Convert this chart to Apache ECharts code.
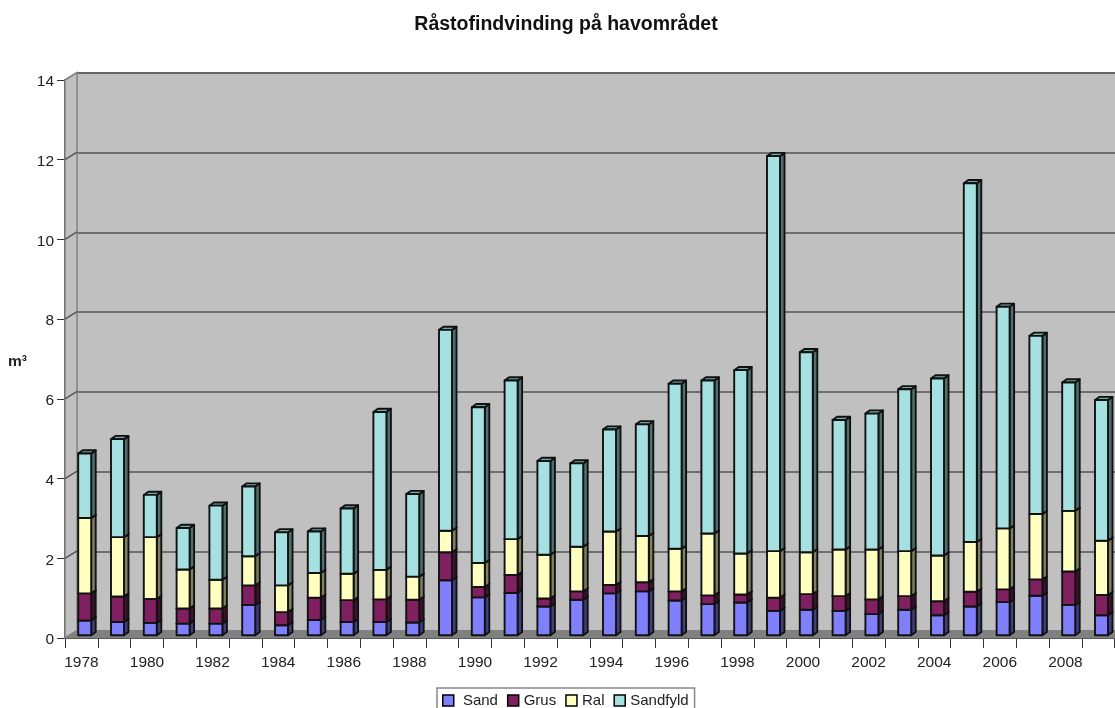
<!DOCTYPE html>
<html>
<head>
<meta charset="utf-8">
<title>Råstofindvinding på havområdet</title>
<script src="https://cdn.jsdelivr.net/npm/echarts@6/dist/echarts.min.js"></script>
<style>
  html, body { margin: 0; padding: 0; background: #fff; overflow: hidden; }
  #main { width: 1115px; height: 708px; }
</style>
</head>
<body>
<div id="main"></div>
<script>
const years = ['1978','1979','1980','1981','1982','1983','1984','1985','1986','1987','1988','1989','1990','1991','1992','1993',
  '1994','1995','1996','1997','1998','1999','2000','2001','2002','2003','2004','2005','2006','2007','2008','2009'];
const sand = [.37,.33,.31,.29,.29,.76,.25,.38,.33,.33,.32,1.38,.95,1.06,.72,.89,1.05,1.10,.87,.78,.82,.61,.64,.61,.53,.64,.50,.72,.83,.99,.76,.50];
const grus = [.68,.64,.60,.38,.38,.49,.33,.56,.55,.57,.57,.70,.26,.45,.20,.21,.21,.23,.23,.22,.20,.33,.39,.37,.37,.34,.35,.37,.32,.41,.84,.51];
const ral = [1.89,1.49,1.55,.98,.72,.73,.67,.62,.66,.74,.58,.54,.60,.90,1.10,1.12,1.34,1.16,1.07,1.55,1.03,1.17,1.05,1.17,1.25,1.13,1.15,1.25,1.53,1.64,1.52,1.36];
const sandfyld = [1.62,2.46,1.06,1.04,1.86,1.75,1.33,1.04,1.64,3.96,2.07,5.04,3.91,3.98,2.35,2.09,2.56,2.80,4.14,3.84,4.60,9.91,5.02,3.25,3.41,4.06,4.44,9.00,5.56,4.47,3.22,3.53];
const yTicks = [0,2,4,6,8,10,12,14];

const names = ['Sand','Grus','Ral','Sandfyld'];
const values = [sand, grus, ral, sandfyld];
// front, side, top colours of each layer
const colors = [
  ['#8080FF','#404080','#6060C0'],
  ['#802060','#401030','#601848'],
  ['#FFFFC0','#808060','#C0C090'],
  ['#A5E1E1','#507070','#78A8A8']
];

// depth of the fake 3d box
const wallDX = 12, wallDY = -7.5;
const barDX = 4.5, barDY = -3.2;
const barW = 13, barShiftX = 3.3, barShiftY = -2.8;

// a bar segment is a front face plus a side and a top
function renderBar(layer) {
  return function (params, api) {
    let low = api.coord([api.value(0), api.value(1)]);
    let high = api.coord([api.value(0), api.value(2)]);
    let x0 = low[0] + barShiftX - barW / 2, x1 = x0 + barW;
    let y0 = low[1] + barShiftY, y1 = high[1] + barShiftY;
    let line = { stroke: '#111', lineWidth: 1.9, lineJoin: 'round' };
    function poly(pts, fill) {
      return { type: 'polygon', shape: { points: pts }, style: Object.assign({ fill: fill }, line) };
    }
    return {
      type: 'group',
      children: [
        poly([[x1, y0], [x1 + barDX, y0 + barDY], [x1 + barDX, y1 + barDY], [x1, y1]], colors[layer][1]),
        poly([[x0, y1], [x0 + barDX, y1 + barDY], [x1 + barDX, y1 + barDY], [x1, y1]], colors[layer][2]),
        poly([[x0, y0], [x1, y0], [x1, y1], [x0, y1]], colors[layer][0])
      ]
    };
  };
}

// side wall, floor and the slanted grid lines, drawn once per y tick
function renderWall(params, api) {
  let v = api.value(0);
  let p = api.coord([0, v]);
  let x = p[0] - api.size([1, 0])[0] / 2;
  let children = [];
  if (v === 0) {
    let top = api.coord([0, 14])[1];
    children.push({ type: 'polygon', shape: { points: [[x, p[1]], [x + wallDX, p[1] + wallDY], [x + wallDX, top + wallDY], [x, top]] },
      style: { fill: '#C0C0C0', stroke: '#888', lineWidth: 1.5 } });
    children.push({ type: 'polygon', shape: { points: [[x, p[1]], [x + wallDX, p[1] + wallDY], [1200, p[1] + wallDY], [1200, p[1]]] },
      style: { fill: '#808080', stroke: '#808080', lineWidth: 1 } });
  } else {
    children.push({ type: 'line', shape: { x1: x, y1: p[1], x2: x + wallDX, y2: p[1] + wallDY },
      style: { stroke: v === 14 ? '#888' : '#555', lineWidth: 1.5 } });
  }
  return { type: 'group', children: children };
}

let series = [{
  type: 'custom',
  xAxisIndex: 1,
  yAxisIndex: 1,
  z: 1,
  clip: false,
  silent: true,
  renderItem: renderWall,
  encode: { y: 0 },
  data: yTicks.map(function (t) { return [t]; })
}];

let base = years.map(function () { return 0; });
values.forEach(function (list, layer) {
  series.push({
    name: names[layer],
    type: 'custom',
    xAxisIndex: 1,
    yAxisIndex: 1,
    z: 3,
    clip: false,
    itemStyle: { color: colors[layer][0] },
    renderItem: renderBar(layer),
    encode: { x: 0, y: [1, 2] },
    data: list.map(function (val, i) {
      let row = [i, base[i], +(base[i] + val).toFixed(2)];
      base[i] = row[2];
      return row;
    })
  });
});

let myChart = echarts.init(document.getElementById('main'));
myChart.setOption({
  animation: false,
  textStyle: { fontFamily: 'Liberation Sans' },
  title: {
    text: 'Råstofindvinding på havområdet',
    left: 561,
    top: 10,
    textAlign: 'center',
    textStyle: { fontFamily: 'Liberation Sans', fontSize: 19.5, fontWeight: 'bold', color: '#111' }
  },
  legend: {
    data: names,
    left: 437,
    top: 688,
    padding: [5, 6, 12, 5],
    itemWidth: 11,
    itemHeight: 11,
    itemGap: 9,
    icon: 'rect',
    borderColor: '#888',
    borderWidth: 1.5,
    backgroundColor: '#fff',
    itemStyle: { borderColor: '#000', borderWidth: 1.5 },
    textStyle: { fontFamily: 'Liberation Sans', fontSize: 15, color: '#222' },
    formatter: function (name) { return name === 'Sand' ? ' ' + name : name; }
  },
  grid: [
    // back wall
    { left: 77, top: 73, width: 1100, height: 558, show: true, backgroundColor: '#C0C0C0', borderColor: '#888', borderWidth: 1.5, outerBoundsMode: 'none' },
    // front plane, carries the axes and the bars
    { left: 65, top: 80, width: 1049.6, height: 558, outerBoundsMode: 'none' }
  ],
  xAxis: [
    { gridIndex: 0, type: 'value', min: 0, max: 1, show: false },
    {
      gridIndex: 1,
      type: 'category',
      data: years,
      axisLine: { show: true, lineStyle: { color: '#333', width: 2 } },
      axisTick: { show: true, length: 10, lineStyle: { color: '#333', width: 1 }, interval: 0 },
      axisLabel: { interval: 1, margin: 17, fontSize: 15.5, color: '#222', fontFamily: 'Liberation Sans' }
    }
  ],
  yAxis: [
    {
      gridIndex: 0,
      type: 'value',
      min: 0,
      max: 14,
      interval: 2,
      axisLine: { show: false },
      axisTick: { show: false },
      axisLabel: { show: false },
      splitLine: { lineStyle: { color: '#555', width: 1.5 } }
    },
    {
      gridIndex: 1,
      type: 'value',
      min: 0,
      max: 14,
      interval: 2,
      name: '{a|m³}',
      nameLocation: 'middle',
      nameRotate: 0,
      nameGap: 38,
      nameTextStyle: {
        rich: { a: { fontFamily: 'Liberation Sans', fontSize: 15.5, fontWeight: 'bold', color: '#222', padding: [6, 0, 0, 0] } }
      },
      axisLine: { show: true, lineStyle: { color: '#333', width: 2 } },
      axisTick: { show: true, length: 8, lineStyle: { color: '#333', width: 1 } },
      axisLabel: {
        margin: 11,
        formatter: '{a|{value}}',
        rich: { a: { fontSize: 15.5, color: '#222', fontFamily: 'Liberation Sans', padding: [4, 0, 0, 0] } }
      },
      splitLine: { show: false }
    }
  ],
  series: series
});
</script>
</body>
</html>
